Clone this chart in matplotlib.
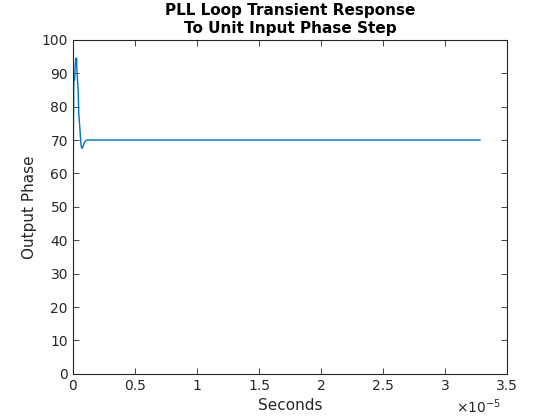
import matplotlib
matplotlib.use("Agg")
import matplotlib.pyplot as plt
from matplotlib.ticker import FuncFormatter

# time in seconds, output phase in degrees
t_us = [0.0, 0.01, 0.05, 0.08, 0.15, 0.19, 0.24, 0.27, 0.30, 0.33, 0.38, 0.43, 0.48,
        0.56, 0.62, 0.68, 0.75, 0.82, 0.90, 0.97, 1.10, 1.23, 1.5, 32.8]
phase = [0.0, 32.0, 72.0, 88.0, 88.0, 92.0, 94.5, 93.0, 94.5, 91.0, 88.0, 85.0, 78.0,
         74.0, 70.6, 68.0, 67.5, 68.0, 69.0, 69.5, 70.0, 70.0, 70.0, 70.0]
t_sec = [v * 1e-6 for v in t_us]

x_ticks = [0, 0.5e-5, 1e-5, 1.5e-5, 2e-5, 2.5e-5, 3e-5, 3.5e-5]
y_ticks = list(range(0, 101, 10))

def main():
    dark = '#262626'
    fig = plt.figure(figsize=(5.6, 4.2), dpi=100)
    ax = fig.add_axes([0.130, 0.110, 0.776, 0.795])
    ax.plot(t_sec, phase, color='#0072BD', lw=1.0)

    ax.set_xlim(0, 3.5e-5)
    ax.set_ylim(0, 100)
    ax.set_xticks(x_ticks)
    ax.set_yticks(y_ticks)
    ax.xaxis.set_major_formatter(FuncFormatter(lambda v, p: '%g' % round(v / 1e-5, 3)))
    ax.tick_params(direction='in', top=True, right=True, colors=dark, labelsize=10,
                   length=4, width=0.6)
    for s in ax.spines.values():
        s.set_color(dark)
        s.set_linewidth(0.8)

    ax.set_title("PLL Loop Transient Response\nTo Unit Input Phase Step",
                 fontsize=11, fontweight='bold', color='black', linespacing=1.25, pad=5)
    ax.set_xlabel("Seconds", fontsize=11, color=dark, labelpad=4)
    ax.set_ylabel("Output Phase", fontsize=11, color=dark, labelpad=3)
    ax.text(0.985, -0.072, r'$\times10^{-5}$', transform=ax.transAxes, ha='right',
            va='top', fontsize=10, color=dark)

    fig.savefig("out.png", dpi=100)

if __name__ == "__main__":
    main()
